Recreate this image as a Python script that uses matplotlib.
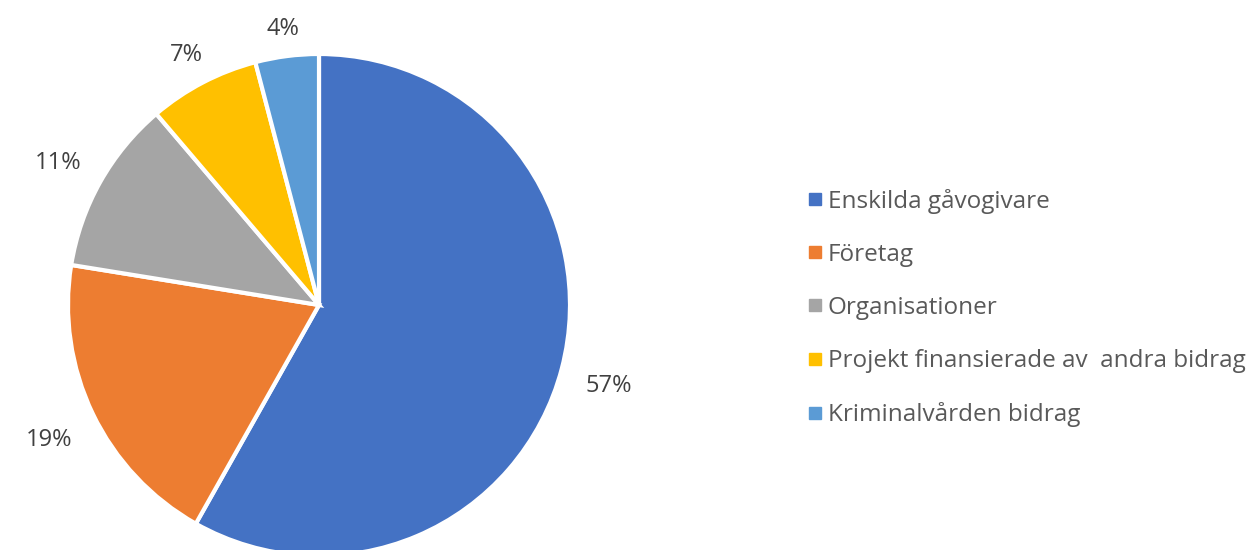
import numpy as np
import matplotlib.pyplot as plt
from matplotlib.lines import Line2D

# data
kategorier = ["Enskilda gåvogivare", "Företag", "Organisationer",
              "Projekt finansierade av  andra bidrag", "Kriminalvården bidrag"]
andelar = [57, 19, 11, 7, 4]
etiketter = ["57%", "19%", "11%", "7%", "4%"]
farger = ["#4472C4", "#ED7D31", "#A5A5A5", "#FFC000", "#5B9BD5"]

plt.rcParams['font.family'] = ['Open Sans', 'DejaVu Sans']

fig = plt.figure(figsize=(12.6, 5.5), dpi=100)
ax = fig.add_axes([0, 0, 1, 1])
ax.set_xlim(0, 1260)
ax.set_ylim(0, 550)
ax.set_aspect('equal')
ax.axis('off')

cx, cy, r = 319, 245, 251
wedges, _ = ax.pie(andelar, colors=farger, startangle=90, counterclock=False,
                   center=(cx, cy), radius=r,
                   wedgeprops=dict(edgecolor='white', linewidth=3))
ax.set_xlim(0, 1260)
ax.set_ylim(0, 550)

# procent etiketter utanför, avstånd efter textens storlek
for w, txt in zip(wedges, etiketter):
    ang = np.deg2rad((w.theta1 + w.theta2) / 2)
    hw = 8 * len(txt)
    d = r + 24 + abs(np.cos(ang)) * hw + abs(np.sin(ang)) * 6
    ax.text(cx + d * np.cos(ang), cy + d * np.sin(ang) - 5, txt,
            ha='center', va='center', fontsize=17, color='#404040')

handles = [Line2D([], [], marker='s', linestyle='none', markersize=8,
                  markerfacecolor=c, markeredgecolor=c) for c in farger]
fig.legend(handles, kategorier, loc='center left', bbox_to_anchor=(0.633, 0.44),
           frameon=False, fontsize=17.5, labelcolor='#595959',
           handlelength=0.6, handletextpad=0.25, labelspacing=1.2, borderaxespad=0)

fig.savefig("out.png", dpi=100)
